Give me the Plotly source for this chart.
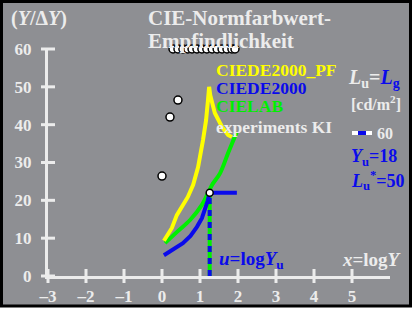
import plotly.graph_objects as go

# ---------------- data ----------------
x_ticks = [-3, -2, -1, 0, 1, 2, 3, 4, 5]
x_tick_text = ["–3", "–2", "–1", "0", "1", "2", "3", "4", "5"]
y_ticks = [0, 10, 20, 30, 40, 50, 60]
y_tick_text = ["0", "10", "20", "30", "40", "50", "60"]

pf_x = [0.05, 0.26, 0.39, 0.53, 0.68, 0.82, 0.95, 1.08, 1.16, 1.21, 1.24, 1.27, 1.39, 1.58, 1.74, 1.84]
pf_y = [9.3, 12.7, 16.1, 18.2, 20.9, 24.1, 28.8, 36.0, 41.2, 46.5, 50.0, 47.8, 43.1, 39.4, 37.3, 36.7]

de_x = [0.05, 0.30, 0.55, 0.75, 0.92, 1.05, 1.13, 1.20, 1.255, 1.97]
de_y = [5.5, 7.0, 8.7, 10.6, 13.0, 15.3, 17.4, 19.8, 22.0, 22.0]

lab_x = [0.08, 0.39, 0.74, 1.05, 1.21, 1.32, 1.53, 1.74, 1.97]
lab_y = [8.7, 11.6, 14.8, 18.8, 21.9, 24.1, 27.2, 32.5, 38.1]

ki_x = [0.0, 0.21, 0.42, 0.29, 0.42, 0.55, 0.68, 0.79, 0.92, 1.05, 1.18, 1.32, 1.45, 1.58, 1.71, 1.84, 1.92]
ki_y = [26.4, 42.0, 46.5, 60, 60, 60, 60, 60, 60, 60, 60, 60, 60, 60, 60, 60, 60]

u_val = 1.255   # log Yu, Yu = 18
u_y = [0, 22.0]
u_point_y = [22.0]

# ---------------- style ----------------
GRAY = "#8e8f93"
WHITE = "#ececec"
BLUE = "#0a0aeb"
GREEN = "#00f000"
YELLOW = "#ffff00"
FONT = "Liberation Serif"

W, H = 412, 309
L, R, T, B = 48, 22, 49, 33


def fx(p):
    return (p - L) / (W - L - R)


def fy(p):
    return (H - B - p) / (H - T - B)


fig = go.Figure()

# axis tick marks (crossing)
fig.add_trace(go.Scatter(x=x_ticks, y=[0] * len(x_ticks), mode="markers",
                         marker=dict(symbol="line-ns", size=10, line=dict(color=WHITE, width=3)),
                         hoverinfo="skip", cliponaxis=False, showlegend=False))
fig.add_trace(go.Scatter(x=[-3] * len(y_ticks), y=y_ticks, mode="markers",
                         marker=dict(symbol="line-ew", size=10, line=dict(color=WHITE, width=3)),
                         hoverinfo="skip", cliponaxis=False, showlegend=False))

# vertical u line (green + blue dashes)
fig.add_trace(go.Scatter(x=[u_val, u_val], y=u_y, mode="lines",
                         line=dict(color=GREEN, width=4), showlegend=False, cliponaxis=False))
fig.add_trace(go.Scatter(x=[u_val, u_val], y=u_y, mode="lines",
                         line=dict(color=BLUE, width=4, dash="6px,6px"), showlegend=False, cliponaxis=False))

fig.add_trace(go.Scatter(x=lab_x, y=lab_y, mode="lines", line=dict(color=GREEN, width=4, shape="spline"),
                         showlegend=False, cliponaxis=False))
fig.add_trace(go.Scatter(x=de_x, y=de_y, mode="lines", line=dict(color=BLUE, width=4),
                         showlegend=False, cliponaxis=False))
fig.add_trace(go.Scatter(x=pf_x, y=pf_y, mode="lines", line=dict(color=YELLOW, width=4),
                         showlegend=False, cliponaxis=False))

fig.add_trace(go.Scatter(x=ki_x, y=ki_y, mode="markers",
                         marker=dict(symbol="circle", size=8, color="white",
                                     line=dict(width=1.5, color="black")),
                         showlegend=False, cliponaxis=False))
fig.add_trace(go.Scatter(x=[u_val], y=u_point_y, mode="markers",
                         marker=dict(symbol="circle", size=7, color="white",
                                     line=dict(width=1.5, color="black")),
                         showlegend=False, cliponaxis=False))

shapes = [
    dict(type="rect", xref="paper", yref="paper", x0=fx(1.5), x1=fx(410.5), y0=fy(1.5), y1=fy(306),
         fillcolor=GRAY, line=dict(color="black", width=3), layer="below"),
    dict(type="line", xref="paper", yref="paper", x0=fx(352), x1=fx(372), y0=fy(133), y1=fy(133),
         line=dict(color="white", width=4)),
    dict(type="line", xref="paper", yref="paper", x0=fx(358), x1=fx(366), y0=fy(133), y1=fy(133),
         line=dict(color=BLUE, width=4)),
]


def ann(text, x, y, size, color=WHITE, anchor="left"):
    return dict(text=text, x=fx(x), y=fy(y), xref="paper", yref="paper", showarrow=False,
                xanchor=anchor, yanchor="middle",
                font=dict(family=FONT, size=size, color=color, weight="bold"))


annotations = [
    ann("(<i>Y</i>/Δ<i>Y</i>)", 9, 18, 20),
    ann("CIE-Normfarbwert-", 146, 18, 21),
    ann("Empfindlichkeit", 146, 41, 21),
    ann("CIEDE2000_PF", 214, 70, 17.5, YELLOW),
    ann("CIEDE2000", 214, 88, 17.5, BLUE),
    ann("CIELAB", 214, 106, 17.5, GREEN),
    ann("experiments KI", 214, 127, 17.5, WHITE),
    ann("<i>L</i><sub>u</sub>=<span style='color:%s'><i>L</i><sub>g</sub></span>" % BLUE, 346, 78, 20),
    ann("[cd/m<sup>2</sup>]", 349, 103, 16),
    ann("60", 375, 133, 16),
    ann("<i>Y</i><sub>u</sub>=18", 349, 157, 18, BLUE),
    ann("<i>L</i><sub>u</sub><sup>*</sup>=50", 349, 180, 18, BLUE),
    ann("<i>u</i>=log<i>Y</i><sub>u</sub>", 217, 260, 19, BLUE),
    ann("<i>x</i>=log<i>Y</i>", 340, 259, 19, WHITE),
]

fig.update_layout(
    width=W, height=H, autosize=False,
    margin=dict(l=L, r=R, t=T, b=B, pad=0),
    paper_bgcolor="white", plot_bgcolor="rgba(0,0,0,0)",
    shapes=shapes, annotations=annotations,
    xaxis=dict(range=[-3, 6], showgrid=False, zeroline=False, showline=True, linecolor=WHITE, linewidth=3,
               tickvals=x_ticks, ticktext=x_tick_text, ticks="", ticklabelstandoff=3, automargin=False,
               tickfont=dict(family=FONT, size=17, color=WHITE, weight="bold"), fixedrange=True),
    yaxis=dict(range=[0, 60], showgrid=False, zeroline=False, showline=True, linecolor=WHITE, linewidth=3,
               tickvals=y_ticks, ticktext=y_tick_text, ticks="", ticklabelstandoff=10, automargin=False,
               tickfont=dict(family=FONT, size=17, color=WHITE, weight="bold"), fixedrange=True),
    showlegend=False,
)

fig.write_html("out.html", config={"displayModeBar": False, "staticPlot": True},
               post_script="document.body.style.margin='0';document.body.style.overflow='hidden';")
